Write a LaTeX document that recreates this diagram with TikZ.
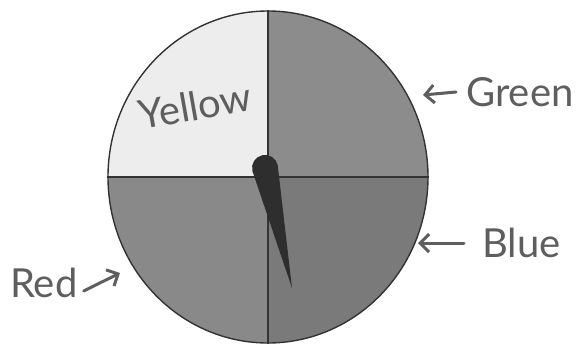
\documentclass[tikz,border=0pt]{standalone}
\usepackage{fontspec}
\setmainfont{Lato}
\usetikzlibrary{arrows.meta,shapes.geometric}
\definecolor{ink}{HTML}{5E5E5E}
\definecolor{qyel}{HTML}{EDEDED}
\definecolor{qgreen}{HTML}{8C8C8C}
\definecolor{qred}{HTML}{898989}
\definecolor{qblue}{HTML}{7A7A7A}
\definecolor{rim}{HTML}{333333}
\tikzset{
  lbl/.style={text=ink, font=\fontsize{40}{44}\selectfont, inner sep=0pt, anchor=base west},
  hand/.style={draw=ink, line width=3pt, line cap=round, -{Straight Barb[length=9pt,width=18pt,line width=3pt]}},
}
\begin{document}
\begin{tikzpicture}[x=1pt,y=1pt]
\useasboundingbox (0,0) rectangle (579,-346);
\coordinate (c) at (268,-177);
\begin{scope}
  \clip (c) ellipse [x radius=160, y radius=166];
  \fill[qyel] (c) rectangle ++(-170,175);
  \fill[qgreen] (c) rectangle ++(170,175);
  \fill[qred] (c) rectangle ++(-170,-175);
  \fill[qblue] (c) rectangle ++(170,-175);
\end{scope}
\node[ellipse, draw=rim, line width=1.4pt, minimum width=320pt, minimum height=332pt, inner sep=0pt] (wheel) at (c) {};
\draw[rim, line width=1.6pt] (wheel.north) -- (wheel.south);
\draw[rim, line width=1.6pt] (wheel.west) -- (wheel.east);
\fill[black!82] (292,-288) -- (277.7,-165.1) arc[start angle=12.6, end angle=192.6, radius=13] -- cycle;
\node[lbl, rotate=10] (yellow) at (141,-130) {Yellow};
\node[lbl] (green) at (466,-106) {Green};
\node[lbl] (blue) at (482,-257) {Blue};
\node[lbl] (red) at (10,-297) {Red};
\coordinate (gtip) at (423,-95);
\coordinate (btip) at (418,-243);
\coordinate (rtip) at (120,-273);
\draw[hand] ([xshift=-10pt,yshift=14pt]green.base west) -- (gtip);
\draw[hand] ([xshift=-18pt,yshift=14pt]blue.base west) -- (btip);
\draw[hand] ([xshift=6pt,yshift=6pt]red.base east) -- (rtip);
\end{tikzpicture}
\end{document}
